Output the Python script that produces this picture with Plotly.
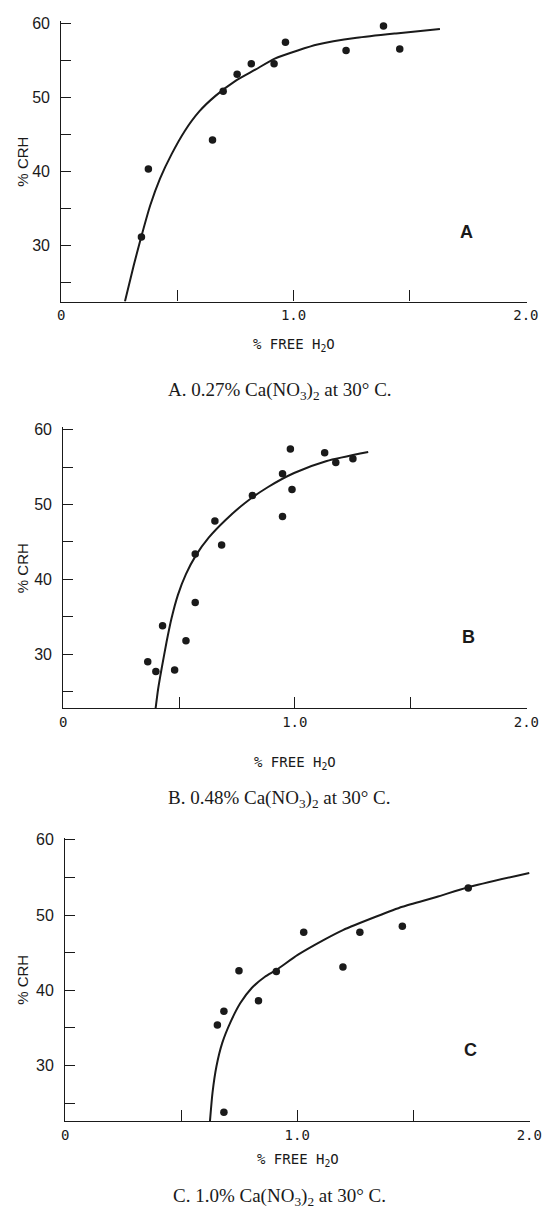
import plotly.graph_objects as go

# ---------------- data ----------------
a_x = [0.345, 0.375, 0.651, 0.697, 0.757, 0.818, 0.916, 0.965, 1.226, 1.387, 1.457]
a_y = [31.1, 40.3, 44.2, 50.8, 53.1, 54.5, 54.5, 57.4, 56.3, 59.6, 56.5]
a_fit_x = [0.274, 0.312, 0.344, 0.383, 0.425, 0.475, 0.531, 0.595, 0.665, 0.750,
           0.835, 0.919, 1.018, 1.103, 1.272, 1.441, 1.630]
a_fit_y = [22.4, 27.3, 31.1, 35.4, 39.0, 42.3, 45.4, 48.1, 50.2, 52.2,
           53.7, 55.2, 56.3, 57.1, 58.0, 58.6, 59.2]

b_x = [0.365, 0.400, 0.429, 0.481, 0.530, 0.570, 0.570, 0.655, 0.684, 0.817,
       0.947, 0.947, 0.981, 0.988, 1.129, 1.177, 1.251]
b_y = [29.0, 27.7, 33.8, 27.9, 31.8, 43.4, 36.9, 47.8, 44.6, 51.2,
       48.4, 54.1, 57.4, 52.0, 56.9, 55.6, 56.1]
b_fit_x = [0.399, 0.410, 0.425, 0.446, 0.467, 0.495, 0.530, 0.573, 0.629, 0.700,
           0.785, 0.883, 0.997, 1.138, 1.317]
b_fit_y = [22.8, 25.4, 28.1, 31.6, 34.7, 37.9, 40.7, 43.2, 45.6, 47.9,
           50.2, 52.3, 54.2, 55.8, 57.0]

c_x = [0.656, 0.684, 0.684, 0.749, 0.833, 0.910, 1.028, 1.197, 1.270, 1.453, 1.737]
c_y = [35.4, 37.2, 23.8, 42.6, 38.6, 42.5, 47.7, 43.1, 47.7, 48.5, 53.6]
c_fit_x = [0.624, 0.635, 0.652, 0.677, 0.713, 0.755, 0.804, 0.861, 0.910, 1.002,
           1.115, 1.197, 1.341, 1.453, 1.600, 1.737, 2.0]
c_fit_y = [22.6, 26.4, 29.9, 33.0, 35.8, 38.3, 40.3, 41.8, 42.7, 44.7,
           46.7, 48.0, 49.8, 51.1, 52.4, 53.7, 55.6]

x_tickvals = [0, 1.0, 2.0]
x_ticktext = ["0", "1.0", "2.0"]
x_minor = [0.5, 1.5]
y_tickvals = [30, 40, 50, 60]
y_ticktext = ["30", "40", "50", "60"]
y_minor = [25, 35, 45, 55]

panel_letters = ["A", "B", "C"]
captions = [
    "A. 0.27% Ca(NO<sub>3</sub>)<sub>2</sub> at 30° C.",
    "B. 0.48% Ca(NO<sub>3</sub>)<sub>2</sub> at 30° C.",
    "C. 1.0% Ca(NO<sub>3</sub>)<sub>2</sub> at 30° C.",
]
x_title = "% FREE H<sub>2</sub>O"
y_title = "% CRH"

# ---------------- layout geometry (pixels) ----------------
W, H = 549, 1214
panels = [
    dict(x0=59.0, x1=538.5, top=14.9, bot=297.0, yr=[22.4, 60.3], xt=341, cap=387, lx=1.746, ly=31.8),
    dict(x0=61.0, x1=539.0, top=423.4, bot=705.7, yr=[22.8, 60.3], xt=761, cap=797, lx=1.75, ly=32.3),
    dict(x0=63.0, x1=542.0, top=835.7, bot=1120.7, yr=[22.6, 60.3], xt=1160, cap=1197, lx=1.746, ly=32.0),
]
x_range = [0, 2.004]
series = [(a_x, a_y, a_fit_x, a_fit_y), (b_x, b_y, b_fit_x, b_fit_y), (c_x, c_y, c_fit_x, c_fit_y)]

fig = go.Figure()
annotations = []
ink = "#1a1a1a"

for i, (p, (sx, sy, fx, fy)) in enumerate(zip(panels, series)):
    n = "" if i == 0 else str(i + 1)
    xa, ya = "x" + n, "y" + n
    fig.add_trace(go.Scatter(x=fx, y=fy, mode="lines", xaxis=xa, yaxis=ya,
                             line=dict(color=ink, width=2, shape="spline", smoothing=0.6),
                             showlegend=False, hoverinfo="skip"))
    fig.add_trace(go.Scatter(x=sx, y=sy, mode="markers", xaxis=xa, yaxis=ya,
                             marker=dict(color=ink, size=7.5), showlegend=False))
    xdom = [p["x0"] / W, p["x1"] / W]
    ydom = [1 - p["bot"] / H, 1 - p["top"] / H]
    fig.update_layout(**{
        "xaxis" + n: dict(domain=xdom, anchor=ya, range=x_range, showgrid=False, zeroline=False,
                          showline=True, linecolor=ink, linewidth=1.2,
                          ticks="inside", ticklen=11, tickcolor=ink, tickwidth=1.2,
                          tickvals=x_tickvals, ticktext=x_ticktext,
                          minor=dict(tickvals=x_minor, ticks="inside", ticklen=11,
                                     tickcolor=ink, tickwidth=1, showgrid=False),
                          tickfont=dict(family="DejaVu Sans Mono", size=14, color=ink),
                          ticklabeloverflow="allow",
                          ticklabelstandoff=1),
        "yaxis" + n: dict(domain=ydom, anchor=xa, range=p["yr"], showgrid=False, zeroline=False,
                          showline=True, linecolor=ink, linewidth=1.2,
                          ticks="inside", ticklen=10, tickcolor=ink, tickwidth=1,
                          tickvals=y_tickvals, ticktext=y_ticktext,
                          minor=dict(tickvals=y_minor, ticks="inside", ticklen=10,
                                     tickcolor=ink, tickwidth=1, showgrid=False),
                          tickfont=dict(family="Liberation Sans", size=16, color=ink),
                          ticklabeloverflow="allow",
                          ticklabelstandoff=7),
    })
    xc = (p["x0"] + p["x1"]) / 2 / W
    yc = 1 - (p["top"] + p["bot"]) / 2 / H
    annotations += [
        dict(text=y_title, x=19 / W, y=yc, xref="paper", yref="paper", textangle=-90,
             showarrow=False, xanchor="center", yanchor="middle",
             font=dict(family="Liberation Sans", size=15, color=ink)),
        dict(text=x_title, x=xc, y=1 - p["xt"] / H, xref="paper", yref="paper",
             showarrow=False, xanchor="center", yanchor="middle",
             font=dict(family="DejaVu Sans Mono", size=14, color=ink)),
        dict(text=captions[i], x=284 / W, y=1 - p["cap"] / H, xref="paper", yref="paper",
             showarrow=False, xanchor="center", yanchor="middle",
             font=dict(family="Liberation Serif", size=19, color=ink)),
        dict(text="<b>" + panel_letters[i] + "</b>", x=p["lx"], y=p["ly"], xref=xa, yref=ya,
             showarrow=False, xanchor="center", yanchor="middle",
             font=dict(family="Liberation Sans", size=18, color=ink)),
    ]

fig.update_layout(width=W, height=H, margin=dict(l=0, r=0, t=0, b=0),
                  paper_bgcolor="white", plot_bgcolor="white",
                  annotations=annotations, showlegend=False)

fig.write_html("out.html", config={"displayModeBar": False},
               post_script="document.body.style.margin='0';document.body.style.padding='0';")
